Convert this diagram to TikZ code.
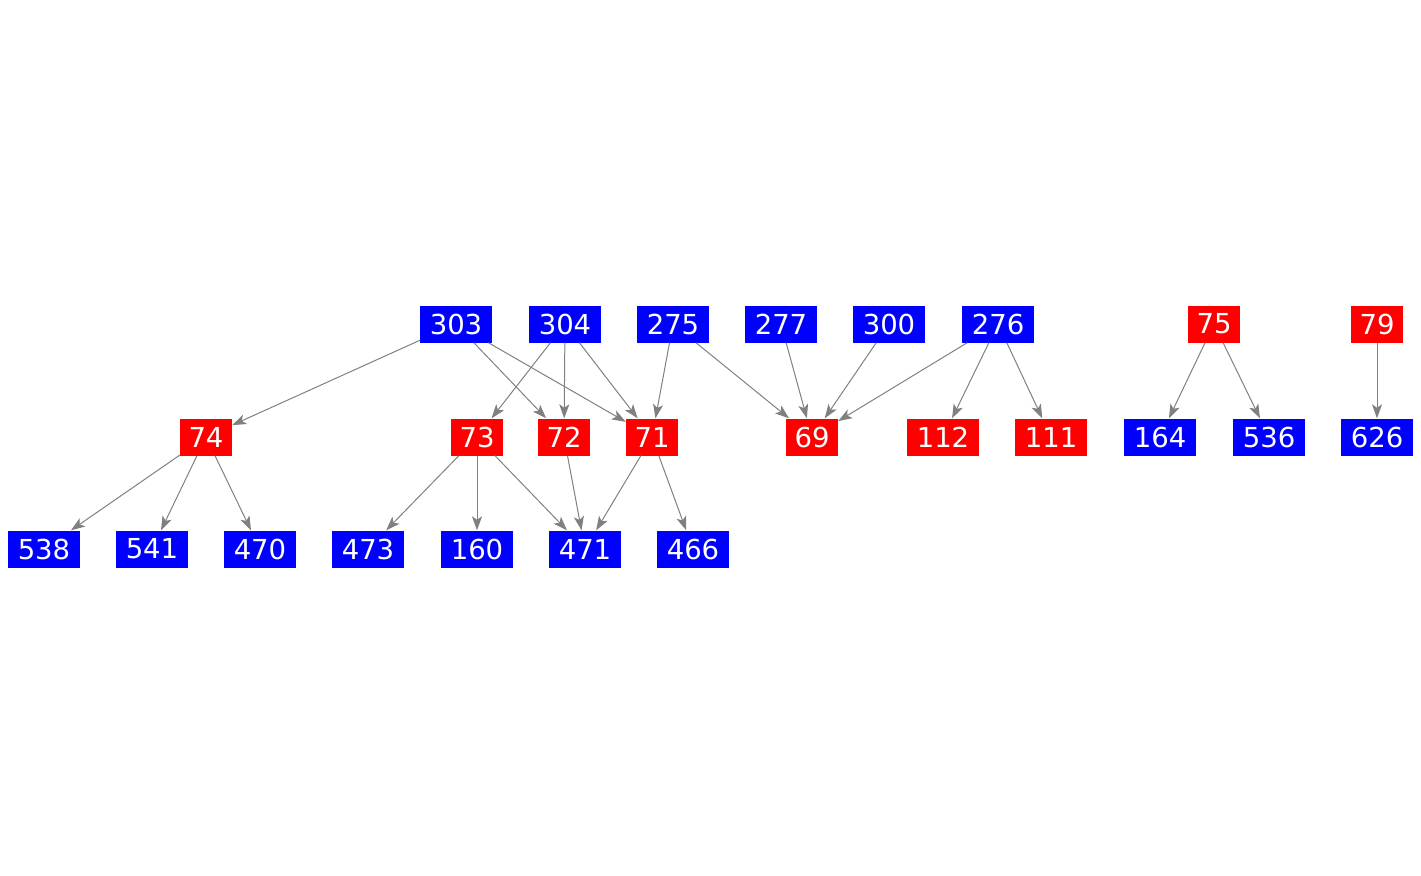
\documentclass[tikz,border=0pt]{standalone}
\usepackage{fontspec}
\setmainfont{DejaVu Sans}
\usetikzlibrary{arrows.meta}
\begin{document}
\begin{tikzpicture}[x=1bp,y=-1bp,
  box/.style={inner sep=0pt, minimum height=37bp, text=white, font=\fontsize{27.5bp}{30bp}\selectfont},
  bl/.style={box, fill=blue, minimum width=72bp},
  rd/.style={box, fill=red, minimum width=52bp},
  rdw/.style={box, fill=red, minimum width=72bp},
  edge/.style={draw=gray, line width=1bp, -{Stealth[length=14bp,width=10bp,inset=3.5bp]}}]
\useasboundingbox (0,0) rectangle (1421,875);
% top row
\node[bl] (n303) at (456,324) {303};
\node[bl] (n304) at (565,324) {304};
\node[bl] (n275) at (673,324) {275};
\node[bl] (n277) at (781,324) {277};
\node[bl] (n300) at (889,324) {300};
\node[bl] (n276) at (998,324) {276};
\node[rd] (n75) at (1214,324) {75};
\node[rd] (n79) at (1377,324) {79};
% middle row
\node[rd] (n74) at (206,437) {74};
\node[rd] (n73) at (477,437) {73};
\node[rd] (n72) at (564,437) {72};
\node[rd] (n71) at (652,437) {71};
\node[rd] (n69) at (812,437) {69};
\node[rdw] (n112) at (943,437) {112};
\node[rdw] (n111) at (1051,437) {111};
\node[bl] (n164) at (1160,437) {164};
\node[bl] (n536) at (1269,437) {536};
\node[bl] (n626) at (1377,437) {626};
% bottom row
\node[bl] (n538) at (44,549) {538};
\node[bl] (n541) at (152,549) {541};
\node[bl] (n470) at (260,549) {470};
\node[bl] (n473) at (368,549) {473};
\node[bl] (n160) at (477,549) {160};
\node[bl] (n471) at (585,549) {471};
\node[bl] (n466) at (693,549) {466};
% edges
\draw[edge] (n303) -- (n74);
\draw[edge] (n303) -- (n72);
\draw[edge] (n303) -- (n71);
\draw[edge] (n304) -- (n73);
\draw[edge] (n304) -- (n72);
\draw[edge] (n304) -- (n71);
\draw[edge] (n275) -- (n71);
\draw[edge] (n275) -- (n69);
\draw[edge] (n277) -- (n69);
\draw[edge] (n300) -- (n69);
\draw[edge] (n276) -- (n69);
\draw[edge] (n276) -- (n112);
\draw[edge] (n276) -- (n111);
\draw[edge] (n75) -- (n164);
\draw[edge] (n75) -- (n536);
\draw[edge] (n79) -- (n626);
\draw[edge] (n74) -- (n538);
\draw[edge] (n74) -- (n541);
\draw[edge] (n74) -- (n470);
\draw[edge] (n73) -- (n473);
\draw[edge] (n73) -- (n160);
\draw[edge] (n73) -- (n471);
\draw[edge] (n72) -- (n471);
\draw[edge] (n71) -- (n471);
\draw[edge] (n71) -- (n466);
\end{tikzpicture}
\end{document}
